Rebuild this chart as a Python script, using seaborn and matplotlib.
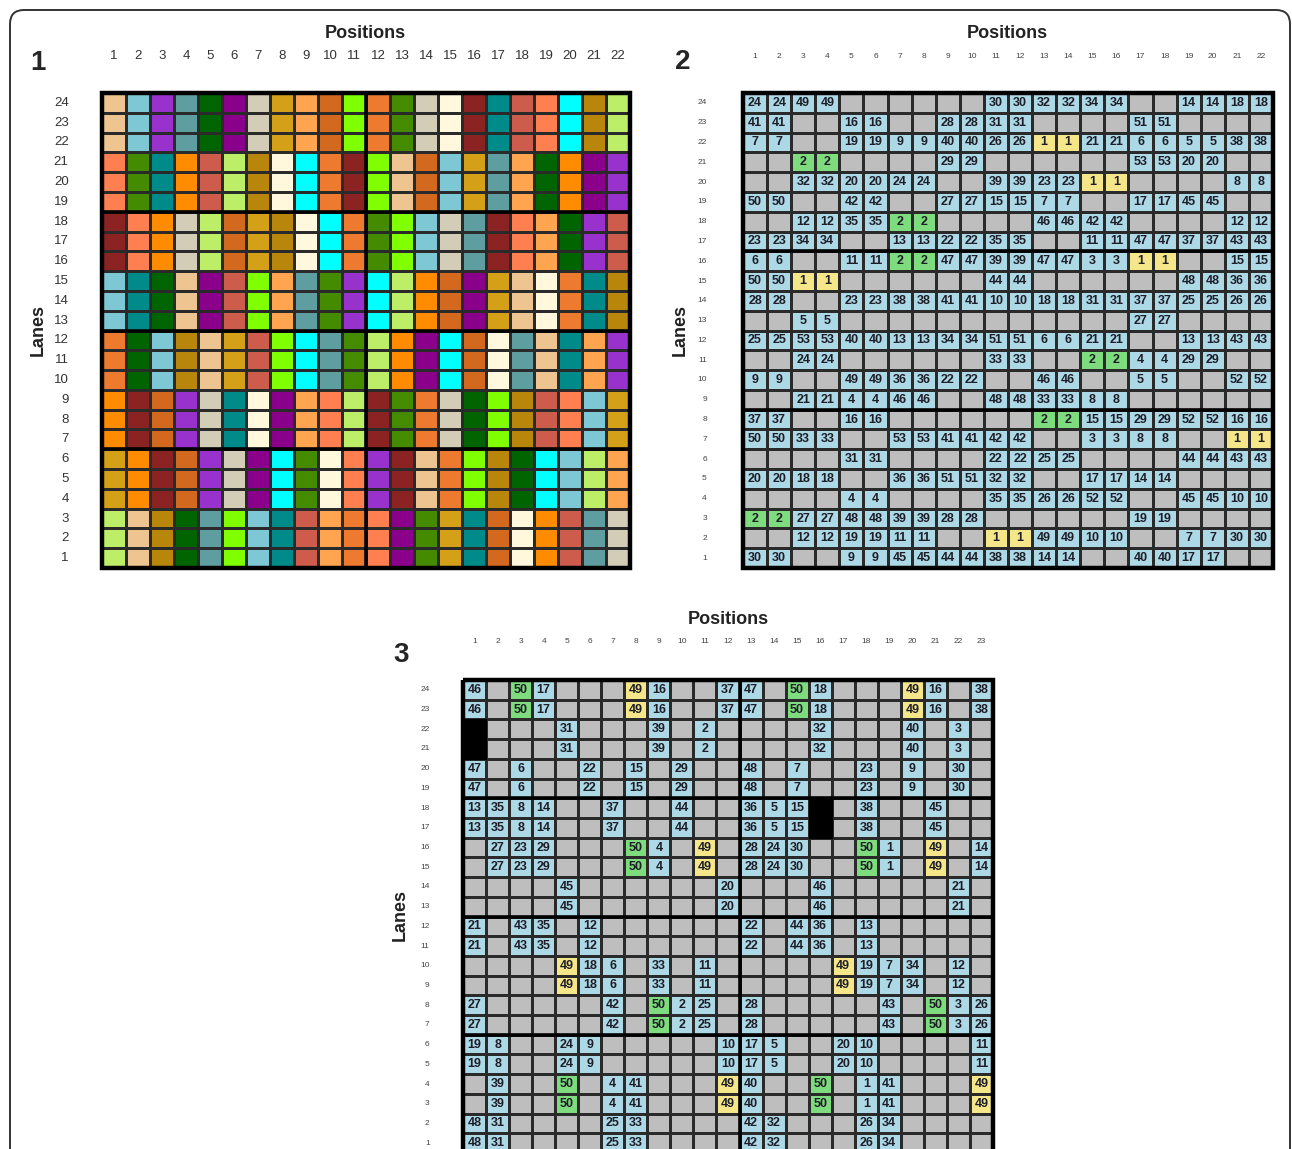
import numpy as np
import matplotlib
matplotlib.use("Agg")
import matplotlib.pyplot as plt
from matplotlib.colors import ListedColormap
from matplotlib.patches import FancyBboxPatch
import seaborn as sns

sns.set_theme(style="white")
plt.rcParams["font.family"] = ["Liberation Sans", "DejaVu Sans"]

W, H = 1292, 1149

# ─── Data ────────────────────────────────────────────────────────────────────
LANES_24 = [str(i) for i in range(24, 0, -1)]
POS_22 = [str(i) for i in range(1, 23)]
POS_23 = [str(i) for i in range(1, 24)]

# panel 1: one colour per position for each 3-lane block (lanes 24-22 first)
P1_BLOCKS = [
    "T LB PU CB DG MG GY GO SB CH CU O2 GR GY CS BR TL IR CO CY DGO LG",
    "CO GR TL DO IR LG DGO CS CY O2 BR CU T CH LB GO CB SB DG DO MG PU",
    "BR CO DO GY LG CH GO DGO CS CY O2 GR CU LB GY CB BR CO SB DG PU IR",
    "LB TL DG T MG IR CU SB CB GR PU CY LG DO CH MG GO T CS O2 TL DGO",
    "O2 DG LB DGO T GO IR CU CY CB GR LG DO MG CY CH CS CB T TL SB PU",
    "DO BR CH PU GY TL CS MG SB CO LG BR GR O2 GY DG CU DGO IR CO LB GO",
    "GO DO BR CH PU GY MG CY GR CS CO PU BR T O2 CU DGO DG CY LB LG SB",
    "LG T DGO DG CB CU LB TL IR SB O2 CO MG GR GO TL CH CS DO IR CB GY",
]

# panel 2: value for each pair of positions (1-2, 3-4, ...), lane 24 first, 0 = empty
P2_PAIRS = [
    [24, 49, 0, 0, 0, 30, 32, 34, 0, 14, 18],
    [41, 0, 16, 0, 28, 31, 0, 0, 51, 0, 0],
    [7, 0, 19, 9, 40, 26, 1, 21, 6, 5, 38],
    [0, 2, 0, 0, 29, 0, 0, 0, 53, 20, 0],
    [0, 32, 20, 24, 0, 39, 23, 1, 0, 0, 8],
    [50, 0, 42, 0, 27, 15, 7, 0, 17, 45, 0],
    [0, 12, 35, 2, 0, 0, 46, 42, 0, 0, 12],
    [23, 34, 0, 13, 22, 35, 0, 11, 47, 37, 43],
    [6, 0, 11, 2, 47, 39, 47, 3, 1, 0, 15],
    [50, 1, 0, 0, 0, 44, 0, 0, 0, 48, 36],
    [28, 0, 23, 38, 41, 10, 18, 31, 37, 25, 26],
    [0, 5, 0, 0, 0, 0, 0, 0, 27, 0, 0],
    [25, 53, 40, 13, 34, 51, 6, 21, 0, 13, 43],
    [0, 24, 0, 0, 0, 33, 0, 2, 4, 29, 0],
    [9, 0, 49, 36, 22, 0, 46, 0, 5, 0, 52],
    [0, 21, 4, 46, 0, 48, 33, 8, 0, 0, 0],
    [37, 0, 16, 0, 0, 0, 2, 15, 29, 52, 16],
    [50, 33, 0, 53, 41, 42, 0, 3, 8, 0, 1],
    [0, 0, 31, 0, 0, 22, 25, 0, 0, 44, 43],
    [20, 18, 0, 36, 51, 32, 0, 17, 14, 0, 0],
    [0, 0, 4, 0, 0, 35, 26, 52, 0, 45, 10],
    [2, 27, 48, 39, 28, 0, 0, 0, 19, 0, 0],
    [0, 12, 19, 11, 0, 1, 49, 10, 0, 7, 30],
    [30, 0, 9, 45, 44, 38, 14, 0, 40, 17, 0],
]

# panel 3: value for each pair of lanes (24/23 first), 0 = empty, -1 = blocked
P3_PAIRS = [
    [46, 0, 50, 17, 0, 0, 0, 49, 16, 0, 0, 37, 47, 0, 50, 18, 0, 0, 0, 49, 16, 0, 38],
    [-1, 0, 0, 0, 31, 0, 0, 0, 39, 0, 2, 0, 0, 0, 0, 32, 0, 0, 0, 40, 0, 3, 0],
    [47, 0, 6, 0, 0, 22, 0, 15, 0, 29, 0, 0, 48, 0, 7, 0, 0, 23, 0, 9, 0, 30, 0],
    [13, 35, 8, 14, 0, 0, 37, 0, 0, 44, 0, 0, 36, 5, 15, -1, 0, 38, 0, 0, 45, 0, 0],
    [0, 27, 23, 29, 0, 0, 0, 50, 4, 0, 49, 0, 28, 24, 30, 0, 0, 50, 1, 0, 49, 0, 14],
    [0, 0, 0, 0, 45, 0, 0, 0, 0, 0, 0, 20, 0, 0, 0, 46, 0, 0, 0, 0, 0, 21, 0],
    [21, 0, 43, 35, 0, 12, 0, 0, 0, 0, 0, 0, 22, 0, 44, 36, 0, 13, 0, 0, 0, 0, 0],
    [0, 0, 0, 0, 49, 18, 6, 0, 33, 0, 11, 0, 0, 0, 0, 0, 49, 19, 7, 34, 0, 12, 0],
    [27, 0, 0, 0, 0, 0, 42, 0, 50, 2, 25, 0, 28, 0, 0, 0, 0, 0, 43, 0, 50, 3, 26],
    [19, 8, 0, 0, 24, 9, 0, 0, 0, 0, 0, 10, 17, 5, 0, 0, 20, 10, 0, 0, 0, 0, 11],
    [0, 39, 0, 0, 50, 0, 4, 41, 0, 0, 0, 49, 40, 0, 0, 50, 0, 1, 41, 0, 0, 0, 49],
    [48, 31, 0, 0, 0, 0, 25, 33, 0, 0, 0, 0, 42, 32, 0, 0, 0, 26, 34, 0, 0, 0, 0],
]

# ─── Styles ──────────────────────────────────────────────────────────────────
P1_COLORS = {
    "T": "#EEC591", "LB": "#7EC8D6", "PU": "#9932CC", "CB": "#5F9EA0",
    "DG": "#006400", "MG": "#8B008B", "GY": "#D3CCB6", "GO": "#D4A017",
    "SB": "#FFA54F", "CH": "#D2691E", "CU": "#7FFF00", "O2": "#EE7A30",
    "GR": "#458B00", "CS": "#FFF8DC", "BR": "#8B2323", "TL": "#008B8B",
    "IR": "#CD5C4C", "CO": "#FF7F50", "CY": "#00FFFF", "DGO": "#B8860B",
    "LG": "#BCEE68", "DO": "#FF8C00",
}
STATUS_COLORS = ["#BEBEBE", "#ADD8E6", "#7EDC7E", "#F5E68A", "#000000"]
GRID = "#2a2a2a"
TXT = "#1e1e28"


def px(x, y):
    return x / W, 1 - y / H


def add_axes(x0, y0, x1, y1):
    return fig.add_axes([x0 / W, 1 - y1 / H, (x1 - x0) / W, (y1 - y0) / H])


def frame(ax, nrow, ncol, hlines, vlines):
    for y in hlines:
        ax.axhline(y, color="black", lw=2.6, zorder=5)
    for x in vlines:
        ax.axvline(x, color="black", lw=2.6, zorder=5)
    ax.add_patch(plt.Rectangle((0, 0), ncol, nrow, fill=False, lw=3.2,
                               edgecolor="black", zorder=6, clip_on=False))


def style_ticks(ax, size, pad_x, pad_y, color):
    ax.xaxis.tick_top()
    ax.tick_params(axis="x", length=0, pad=pad_x, labelsize=size, labelcolor=color)
    ax.tick_params(axis="y", length=0, pad=pad_y, labelsize=size, labelcolor=color)
    plt.setp(ax.get_xticklabels(), rotation=0)
    plt.setp(ax.get_yticklabels(), rotation=0, ha="right")


def status_of(v, low, high):
    if v == 0:
        return 0
    if v == -1:
        return 4
    if v == low:
        return 3
    if v == high:
        return 2
    return 1


fig = plt.figure(figsize=(W / 100, H / 100), dpi=100)
fig.patch.set_facecolor("white")

# outer rounded frame
fig.patches.append(FancyBboxPatch((0.10, -0.5), 12.80, 11.89,
                                  boxstyle="round,pad=0,rounding_size=0.14",
                                  transform=fig.dpi_scale_trans, fill=False,
                                  edgecolor="#333333", lw=1.4))

# ── Panel 1 ──────────────────────────────────────────────────────────────────
keys = list(P1_COLORS.keys())
codes = np.array([[keys.index(k) for k in row.split()] for row in P1_BLOCKS])
codes = np.repeat(codes, 3, axis=0)
ax1 = add_axes(102, 93, 630, 568)
sns.heatmap(codes, ax=ax1, cmap=ListedColormap([P1_COLORS[k] for k in keys]),
            vmin=-0.5, vmax=len(keys) - 0.5, cbar=False,
            linewidths=0.8, linecolor=GRID,
            xticklabels=POS_22, yticklabels=LANES_24)
style_ticks(ax1, 9.5, 22, 24, "#333333")
frame(ax1, 24, 22, [6, 12, 18], [11])

# ── Panel 2 ──────────────────────────────────────────────────────────────────
vals2 = np.repeat(np.array(P2_PAIRS), 2, axis=1)
stat2 = np.vectorize(lambda v: status_of(v, 1, 2))(vals2)
ann2 = np.where(vals2 > 0, vals2.astype(str), "")
ax2 = add_axes(743, 93, 1273, 568)
sns.heatmap(stat2, ax=ax2, cmap=ListedColormap(STATUS_COLORS), vmin=-0.5, vmax=4.5,
            cbar=False, linewidths=0.8, linecolor=GRID,
            annot=ann2, fmt="",
            annot_kws={"fontsize": 9, "fontweight": "bold", "color": TXT},
            xticklabels=POS_22, yticklabels=LANES_24)
style_ticks(ax2, 6, 24, 26, "#444444")
frame(ax2, 24, 22, [8, 16], [])

# ── Panel 3 ──────────────────────────────────────────────────────────────────
pairs3 = np.array(P3_PAIRS)
vals3 = np.repeat(pairs3, 2, axis=0)
stat3 = np.vectorize(lambda v: status_of(v, 49, 50))(vals3)
ann3 = np.where(vals3 > 0, vals3.astype(str), "")
ax3 = add_axes(463, 680, 993, 1153)
sns.heatmap(stat3, ax=ax3, cmap=ListedColormap(STATUS_COLORS), vmin=-0.5, vmax=4.5,
            cbar=False, linewidths=0.8, linecolor=GRID,
            annot=ann3, fmt="",
            annot_kws={"fontsize": 9, "fontweight": "bold", "color": TXT},
            xticklabels=POS_23, yticklabels=LANES_24)
# blocked pairs are one solid black block over both lanes
for r, c in np.argwhere(pairs3 == -1):
    ax3.add_patch(plt.Rectangle((c, 2 * r), 1, 2, facecolor="black",
                                edgecolor="black", lw=0.8, zorder=3))
style_ticks(ax3, 6, 25, 24, "#444444")
frame(ax3, 24, 23, [6, 12, 18], [12])

# ── Labels ───────────────────────────────────────────────────────────────────
for num, (nx, ny), (tx, ty), (lx, ly) in [
    ("1", (38, 63), (365, 34), (38, 330)),
    ("2", (683, 62), (1007, 34), (680, 330)),
    ("3", (401, 655), (728, 619), (400, 915)),
]:
    fig.text(*px(nx, ny), num, fontsize=20, fontweight="bold", ha="center", va="center")
    fig.text(*px(tx, ty), "Positions", fontsize=13, fontweight="bold",
             ha="center", va="center", color="#222222")
    fig.text(*px(lx, ly), "Lanes", fontsize=13, fontweight="bold", rotation=90,
             ha="center", va="center", color="#222222")

fig.savefig("out.png", dpi=100)
